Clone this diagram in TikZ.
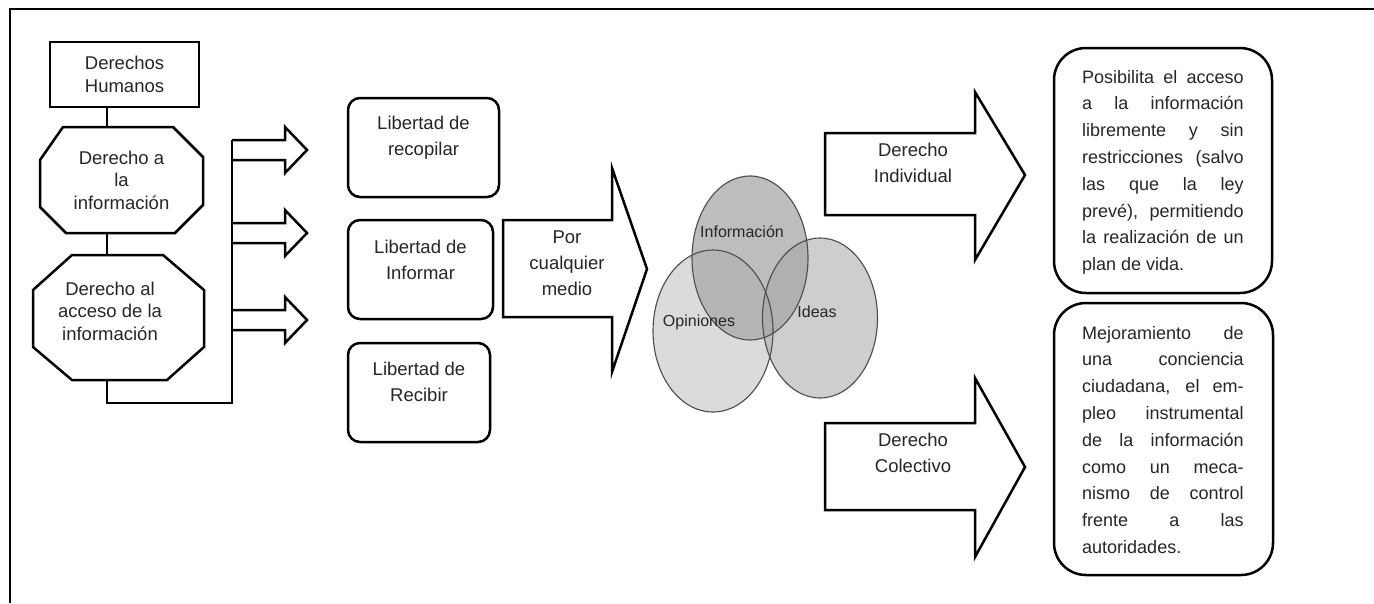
\documentclass[tikz,border=0pt]{standalone}
\usepackage{fontspec}
\setmainfont{Liberation Sans}
\usetikzlibrary{shapes.geometric}
\begin{document}
\begin{tikzpicture}[x=1pt,y=-1pt,line join=miter,
  lw/.style={line width=2.5pt},
  txt/.style={font=\fontsize{18.5}{22.5}\selectfont, align=center, text=black!85, inner sep=0pt},
  txtb/.style={font=\fontsize{18.5}{26}\selectfont, align=center, text=black!85, inner sep=0pt},
  octbox/.style={rectangle, inner sep=0pt, outer sep=0pt},
  libbox/.style={draw, lw, rounded corners=12pt, minimum height=99pt, inner sep=0pt},
  bigbox/.style={draw, lw, rounded corners=32pt, inner sep=0pt},
  ell/.style={ellipse, inner sep=0pt},
  ellline/.style={ellipse, draw=black!70, line width=1.1pt, inner sep=0pt},
  elltxt/.style={font=\fontsize{16}{18}\selectfont, text=black!85, inner sep=0pt},
  just/.style={font=\fontsize{18}{26.8}\selectfont, align=left, text=black!85, inner sep=0pt, anchor=north west},
  smallarrow/.pic={\draw[lw] (0,-10) -- (53,-10) -- (53,-23) -- (75,0) -- (53,23) -- (53,10) -- (0,10);}
]
\useasboundingbox (0,0) rectangle (1374,603);
\fill[white] (0,0) rectangle (1374,603);
% frame
\draw[line width=2.4pt] (10,603) -- (10,9) -- (1374,9);

% left column
\node[draw, lw, txt, minimum width=149pt, minimum height=65pt] (dh) at (124.5,74.5) {Derechos\\Humanos};
\node[octbox, txt, minimum width=163pt, minimum height=106pt] (o1) at (121.5,180) {Derecho a\\la\\información};
\draw[lw] ([shift={(23,0)}]o1.north west) -- ([shift={(133,0)}]o1.north west)
  -- ([shift={(163,30)}]o1.north west) -- ([shift={(163,78)}]o1.north west)
  -- ([shift={(135,106)}]o1.north west) -- ([shift={(26,106)}]o1.north west)
  -- ([shift={(0,80)}]o1.north west) -- ([shift={(0,33)}]o1.north west) -- cycle;
\node[octbox, minimum width=171pt, minimum height=125pt] (o2) at (118.5,317.5) {};
\draw[lw] ([shift={(39,0)}]o2.north west) -- ([shift={(130,0)}]o2.north west)
  -- ([shift={(171,35)}]o2.north west) -- ([shift={(171,92)}]o2.north west)
  -- ([shift={(134,125)}]o2.north west) -- ([shift={(39,125)}]o2.north west)
  -- ([shift={(0,92)}]o2.north west) -- ([shift={(0,35)}]o2.north west) -- cycle;
\node[txt] (o2t) at (110,311) {Derecho al\\acceso de la\\información};

\coordinate (cx) at (107,0);
\coordinate (bus) at (232,403);
\coordinate (bustop) at (232,140);
\draw[lw] (cx |- dh.south) -- (cx |- o1.north);
\draw[lw] (cx |- o1.south) -- (cx |- o2.north);
\draw[lw] (cx |- o2.south) -- (cx |- bus) -- (bus) -- (bustop);

\pic at (232,150) {smallarrow};
\pic at (232,233) {smallarrow};
\pic at (232,320) {smallarrow};

% libertad boxes
\node[libbox, minimum width=151pt] (l1) at (423.5,147.5) {};
\node[libbox, minimum width=145pt] (l2) at (420.5,269.5) {};
\node[libbox, minimum width=142pt] (l3) at (419,392.5) {};
\node[txtb] (l1t) at ([yshift=10pt]l1.center) {Libertad de\\recopilar};
\node[txtb] (l2t) at ([yshift=10pt]l2.center) {Libertad de\\Informar};
\node[txtb] (l3t) at ([yshift=11pt]l3.center) {Libertad de\\Recibir};

% big arrow por cualquier medio
\draw[lw] (503,220) -- (612,220) -- (612,168) -- (647,269) -- (612,372) -- (612,317) -- (503,317) -- cycle;
\node[txtb] (pcm) at (567,263) {Por\\cualquier\\medio};

% ellipses
\node[ell, fill=black!26, minimum width=116pt, minimum height=164pt] (einf) at (750,258) {};
\node[ell, fill=black!33, fill opacity=0.42, minimum width=120pt, minimum height=162pt] (eop) at (713,331) {};
\node[ell, fill=black!35, fill opacity=0.54, minimum width=115pt, minimum height=160pt] (eid) at (820,318) {};
\node[ellline, minimum width=116pt, minimum height=164pt] (einfl) at (einf.center) {};
\node[ellline, minimum width=120pt, minimum height=162pt] (eopl) at (eop.center) {};
\node[ellline, minimum width=115pt, minimum height=160pt] (eidl) at (eid.center) {};
\node[elltxt] (tinf) at (742,232) {Información};
\node[elltxt] (top) at (699,322) {Opiniones};
\node[elltxt] (tid) at (817,312) {Ideas};

% derecho arrows
\draw[lw] (825,133) -- (975,133) -- (975,92) -- (1025,175) -- (975,260) -- (975,215) -- (825,215) -- cycle;
\node[txtb] (di) at (913,163) {Derecho\\Individual};
\draw[lw] (825,423) -- (975,423) -- (975,378) -- (1025,467) -- (975,557) -- (975,510) -- (825,510) -- cycle;
\node[txtb] (dc) at (913,453) {Derecho\\Colectivo};

% right boxes
\node[bigbox, minimum width=218pt, minimum height=245pt] (rb1) at (1163,170.5) {};
\node[bigbox, minimum width=219pt, minimum height=272pt] (rb2) at (1163.5,439) {};
\node[just] (rb1t) at (1082,64.2) {\strut\makebox[161.5pt][s]{Posibilita el acceso}\\
\makebox[161.5pt][s]{a la información}\\
\makebox[161.5pt][s]{libremente y sin}\\
\makebox[161.5pt][s]{restricciones (salvo}\\
\makebox[161.5pt][s]{las que la ley}\\
\makebox[161.5pt][s]{prevé), permitiendo}\\
\makebox[161.5pt][s]{la realización de un}\\
\makebox[161.5pt][l]{plan de vida.}};
\node[just] (rb2t) at (1082,320.2) {\strut\makebox[161.5pt][s]{Mejoramiento de}\\
\makebox[161.5pt][s]{una conciencia}\\
\makebox[161.5pt][s]{ciudadana, el em-}\\
\makebox[161.5pt][s]{pleo instrumental}\\
\makebox[161.5pt][s]{de la información}\\
\makebox[161.5pt][s]{como un meca-}\\
\makebox[161.5pt][s]{nismo de control}\\
\makebox[161.5pt][s]{frente a las}\\
\makebox[161.5pt][l]{autoridades.}};
\end{tikzpicture}
\end{document}
